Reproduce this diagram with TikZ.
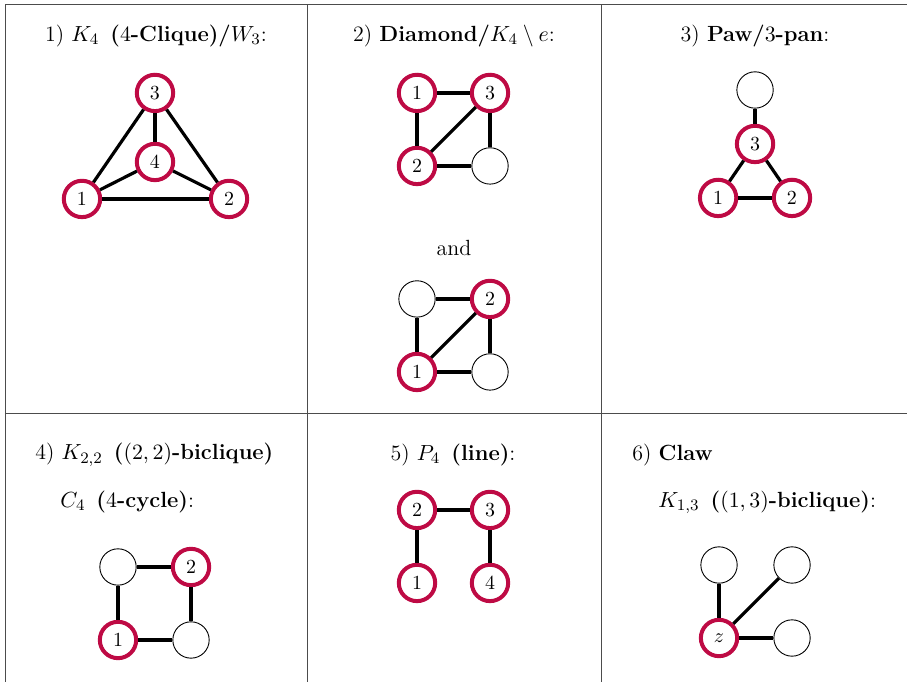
\documentclass[tikz,border=0pt]{standalone}
\usepackage{amsmath}
\usepackage{amssymb}
\usepackage{xcolor}
\usepackage{tikz}
\usetikzlibrary{positioning}
\definecolor{ringred}{RGB}{190,10,68}

\begin{document}
\begin{tikzpicture}[
    node distance=1.285cm,
    on grid,
    vertex/.style={
        circle,
        draw,
        fill=white,
        minimum size=0.64cm,
        inner sep=0pt
    },
    pick/.style={vertex, draw=ringred, line width=2pt},
    plain/.style={vertex, line width=0.45pt},
    edge/.style={line width=1.6pt},
    rule/.style={draw=black!70, line width=0.5pt},
    title/.style={inner sep=0pt, font=\fontsize{11}{13}\selectfont}
]
\useasboundingbox (0,0) rectangle (16,12.004);

\draw[rule] (0.088,0) -- (0.088,11.917) -- (15.965,11.917);
\draw[rule] (0.088,4.717) -- (15.965,4.717);
\draw[rule] (5.404,0) -- (5.404,11.917);
\draw[rule] (10.579,0) -- (10.579,11.917);

\node[title] (t1) at (2.746,11.371) {1) $K_4$\enspace\textbf{($4$-Clique)/}$W_3$:};
\node[title] (t2) at (7.991,11.371) {2) \textbf{Diamond/}$K_4 \setminus e$:};
\node[title] (t3) at (13.290,11.371) {3) \textbf{Paw/$3$-pan}:};
\node[title, anchor=west] (t4) at (0.616,3.996) {4) $K_{2,2}$\enspace\textbf{($(2,2)$-biclique)}};
\node[title, anchor=west] (t4b) at (1.056,3.168) {$C_4$\enspace\textbf{($4$-cycle)}:};
\node[title] (t5) at (7.974,3.996) {5) $P_4$\enspace\textbf{(line)}:};
\node[title, anchor=west] (t6) at (11.124,3.996) {6) \textbf{Claw}};
\node[title, anchor=west] (t6b) at (11.582,3.168) {$K_{1,3}$\enspace\textbf{($(1,3)$-biclique)}:};
\node[title] (and) at (7.991,7.639) {and};

\node[pick] (k3) at (2.728,10.368) {3};
\node[pick] (k4) at (2.728,9.153) {4};
\node[pick] (k1) at (1.443,8.502) {1};
\node[pick] (k2) at (4.031,8.502) {2};
\draw[edge] (k1) -- (k2);
\draw[edge] (k1) -- (k3);
\draw[edge] (k1) -- (k4);
\draw[edge] (k2) -- (k3);
\draw[edge] (k2) -- (k4);
\draw[edge] (k3) -- (k4);

\node[pick] (d1) at (7.340,10.368) {1};
\node[pick, right=of d1] (d3) {3};
\node[pick, below=of d1] (d2) {2};
\node[plain, right=of d2] (dw) {};
\draw[edge] (d1) -- (d3);
\draw[edge] (d1) -- (d2);
\draw[edge] (d2) -- (d3);
\draw[edge] (d3) -- (dw);
\draw[edge] (d2) -- (dw);

\node[plain] (ea) at (7.340,6.742) {};
\node[pick, right=of ea] (e2) {2};
\node[pick, below=of ea] (e1) {1};
\node[plain, right=of e1] (eb) {};
\draw[edge] (ea) -- (e2);
\draw[edge] (ea) -- (e1);
\draw[edge] (e1) -- (e2);
\draw[edge] (e2) -- (eb);
\draw[edge] (e1) -- (eb);

\node[pick] (p3) at (13.290,9.470) {3};
\node[plain, above=0.95cm of p3] (pw) {};
\node[pick, below left=0.95cm and 0.65cm of p3] (p1) {1};
\node[pick, below right=0.95cm and 0.65cm of p3] (p2) {2};
\draw[edge] (pw) -- (p3);
\draw[edge] (p3) -- (p1);
\draw[edge] (p3) -- (p2);
\draw[edge] (p1) -- (p2);

\node[plain] (ca) at (2.077,2.024) {};
\node[pick, right=of ca] (c2) {2};
\node[pick, below=of ca] (c1) {1};
\node[plain, right=of c1] (cb) {};
\draw[edge] (ca) -- (c2);
\draw[edge] (ca) -- (c1);
\draw[edge] (c2) -- (cb);
\draw[edge] (c1) -- (cb);

\node[pick] (l2) at (7.340,3.028) {2};
\node[pick, right=of l2] (l3) {3};
\node[pick, below=of l2] (l1) {1};
\node[pick, below=of l3] (l4) {4};
\draw[edge] (l2) -- (l3);
\draw[edge] (l2) -- (l1);
\draw[edge] (l3) -- (l4);

\node[plain] (za) at (12.656,2.059) {};
\node[plain, right=of za] (zb) {};
\node[pick, below=of za] (z) {$z$};
\node[plain, right=of z] (zc) {};
\draw[edge] (z) -- (za);
\draw[edge] (z) -- (zb);
\draw[edge] (z) -- (zc);

\end{tikzpicture}
\end{document}
